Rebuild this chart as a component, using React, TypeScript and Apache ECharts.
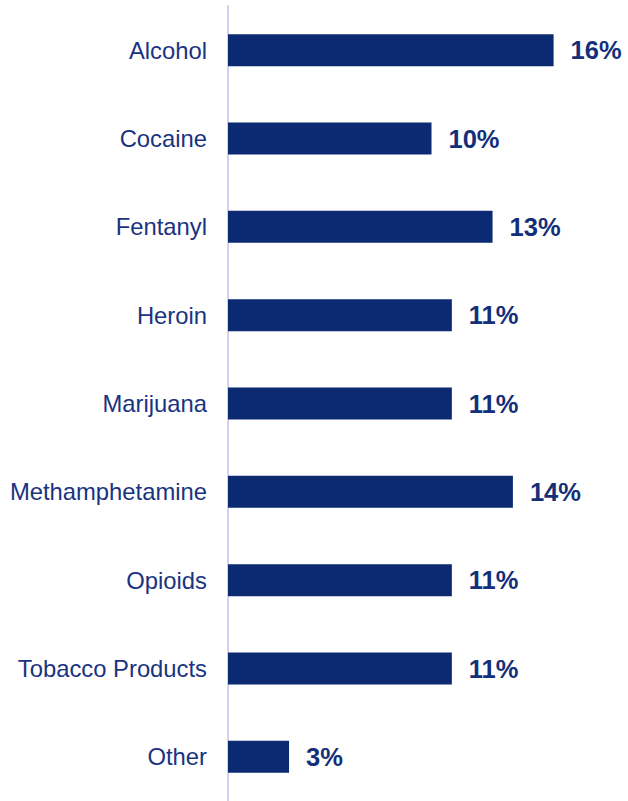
import React, { useEffect, useRef } from "react";
import * as echarts from "echarts";

const categories = [
  "Alcohol",
  "Cocaine",
  "Fentanyl",
  "Heroin",
  "Marijuana",
  "Methamphetamine",
  "Opioids",
  "Tobacco Products",
  "Other",
];
const values = [16, 10, 13, 11, 11, 14, 11, 11, 3];

export default function App() {
  const ref = useRef<HTMLDivElement>(null);
  useEffect(() => {
    if (!ref.current) return;
    const chart = echarts.init(ref.current, undefined, { renderer: "svg" });
    const navy = "#0b2a72";
    chart.setOption({
      animation: false,
      grid: { left: 228, top: 6, height: 797, width: 19 * 20.35 },
      xAxis: {
        type: "value",
        min: 0,
        max: 19,
        show: false,
      },
      yAxis: {
        type: "category",
        data: categories,
        inverse: true,
        axisLine: { show: true, lineStyle: { color: "#d3d0f0", width: 2 } },
        axisTick: { show: false },
        axisLabel: {
          color: "#1a3380",
          fontFamily: "'Liberation Sans', Arial, sans-serif",
          fontSize: 23.8,
          margin: 21,
        },
      },
      series: [
        {
          type: "bar",
          data: values,
          barWidth: 32,
          itemStyle: { color: navy },
          label: {
            show: true,
            position: "right",
            distance: 17,
            formatter: "{c}%",
            color: "#142f7a",
            fontWeight: "bold",
            fontSize: 25.5,
            fontFamily: "'Liberation Sans', Arial, sans-serif",
          },
        },
      ],
    });
    return () => chart.dispose();
  }, []);
  return (
    <div
      ref={ref}
      style={{ position: "absolute", left: 0, top: 0, width: 628, height: 801 }}
    />
  );
}
